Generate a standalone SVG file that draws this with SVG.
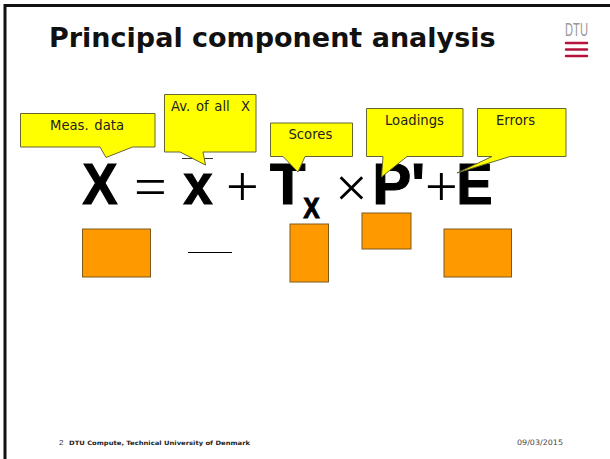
<svg xmlns="http://www.w3.org/2000/svg" width="610" height="459" viewBox="0 0 610 459">
<style>
text{font-family:"Liberation Sans",Arial,sans-serif}
.call{fill:#ff0;stroke:#666633;stroke-width:1}
.box{fill:#f90;stroke:#7f5a1e;stroke-width:1}
.lab{font-family:"DejaVu Sans",sans-serif;font-size:13.2px;fill:#222;white-space:pre;word-spacing:1.5px}
.big{font-weight:bold;font-size:58px;fill:#000;stroke:#000;stroke-width:1.2px}
.op{font-family:"Liberation Serif",serif;font-size:58px;fill:#000}
</style>
<rect width="610" height="459" fill="#fff"/>
<g id="frame"><path d="M610 5.500H5V459" fill="none" stroke="#111" stroke-width="3"/></g>
<text x="49" y="47" style="font-family:'DejaVu Sans',sans-serif;font-weight:bold;font-size:27px" fill="#111">Principal component analysis</text>
<g id="logo"><text x="565" y="36" style="font-family:'Liberation Sans Narrow','Liberation Sans',sans-serif;font-size:18px" fill="#999" textLength="23" lengthAdjust="spacingAndGlyphs">DTU</text>
<path d="M566 43H587M566 49.500H587M566 56H587" stroke="#b5123c" stroke-width="2.500" stroke-linecap="round"/></g>
<g id="formula">
<text class="big" x="82.500" y="203.500" textLength="35" lengthAdjust="spacingAndGlyphs">X</text>
<text class="op" x="134" y="206">=</text>
<path d="M182 158.500H213" stroke="#333" stroke-width="1"/>
<text class="big" x="183.500" y="203.500" textLength="29" lengthAdjust="spacingAndGlyphs">x</text>
<text class="op" x="226" y="206">+</text>
<text class="big" x="270" y="203.500">T</text>
<text class="big" x="303.500" y="217.500" style="font-size:29px" textLength="16" lengthAdjust="spacingAndGlyphs">X</text>
<text class="op" x="335" y="206.500">×</text>
<text class="big" x="372.500" y="203.500">P'</text>
<text class="op" x="425" y="206">+</text>
<text class="big" x="456.500" y="203.500" textLength="36" lengthAdjust="spacingAndGlyphs">E</text>
</g>
<g id="rect-x"><rect class="box" x="82.500" y="229" width="68" height="48"/></g>
<path id="line-mean" d="M188 252.500H232" stroke="#000" stroke-width="1"/>
<g id="rect-t"><rect class="box" x="290" y="224" width="38.500" height="58"/></g>
<g id="rect-p"><rect class="box" x="362" y="213" width="49" height="36"/></g>
<g id="rect-e"><rect class="box" x="444" y="229" width="67.500" height="48"/></g>
<g id="callout-meas"><path class="call" d="M20.500 113.500H155V147H132.500L106 157.500L100 147H20.500Z"/><text class="lab" x="50" y="130">Meas. data</text></g>
<g id="callout-avg"><path class="call" d="M164.500 94.500H256V152H203L205.500 165L180 152H164.500Z"/><text class="lab" x="171" y="111" xml:space="preserve">Av. of all  X</text></g>
<g id="callout-scores"><path class="call" d="M270.500 123H352.500V156.500H305L298 172L283 156.500H270.500Z"/><text class="lab" x="288.500" y="139">Scores</text></g>
<g id="callout-load"><path class="call" d="M366.500 108.500H463V156.500H407L381.500 177L383 156.500H366.500Z"/><text class="lab" x="385" y="125">Loadings</text></g>
<g id="callout-err"><path class="call" d="M477.500 108.500H566V156.500H510L457 173L492 156.500H477.500Z"/><text class="lab" x="496" y="125">Errors</text></g>
<g id="footer">
<text x="59" y="445" style="font-size:8px" fill="#333">2</text>
<text x="69" y="444.500" style="font-family:'DejaVu Sans',sans-serif;font-size:6px;font-weight:bold" fill="#222" textLength="181" lengthAdjust="spacingAndGlyphs">DTU Compute, Technical University of Denmark</text>
<text x="517" y="445" style="font-family:'DejaVu Sans',sans-serif;font-size:7.500px" fill="#444" textLength="46" lengthAdjust="spacingAndGlyphs">09/03/2015</text>
</g>
</svg>
